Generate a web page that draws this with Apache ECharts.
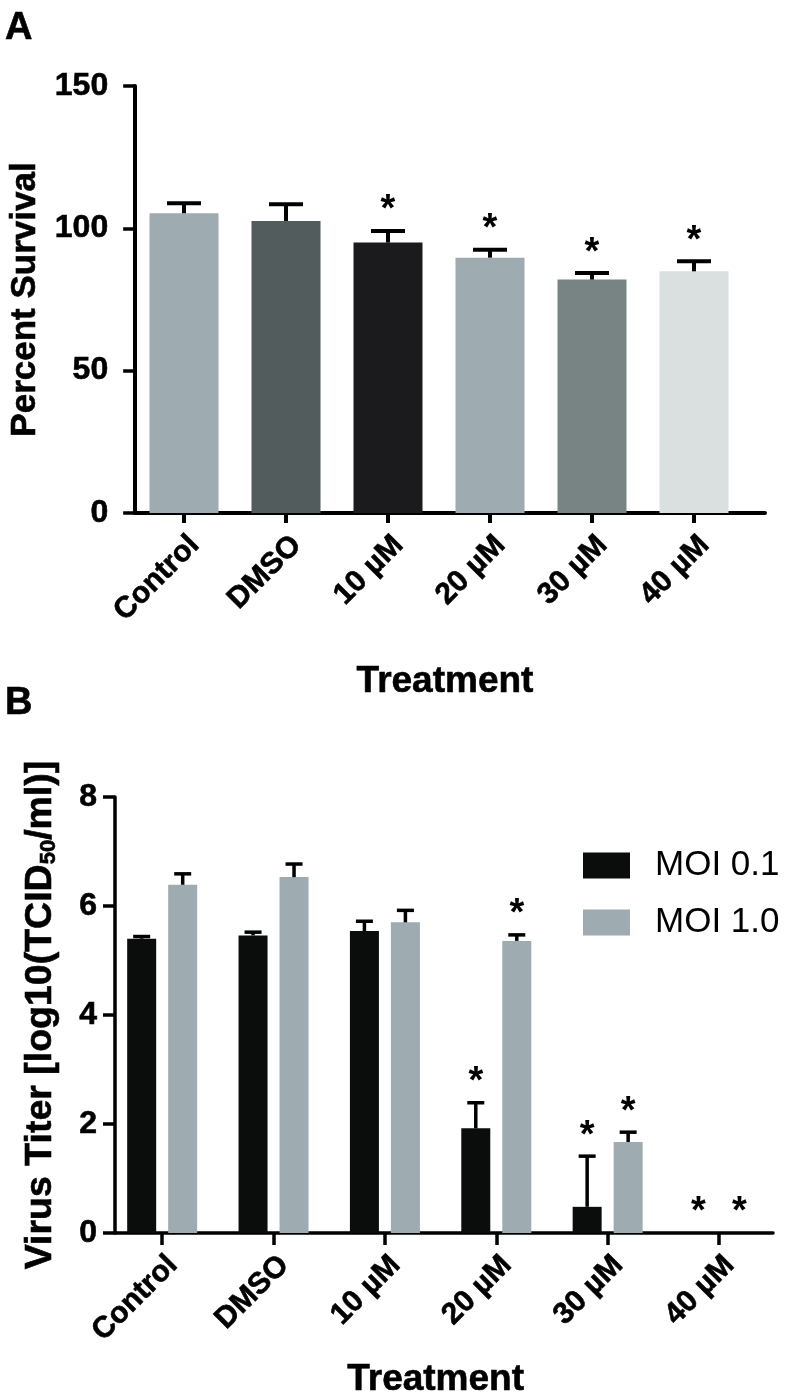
<!DOCTYPE html>
<html>
<head>
<meta charset="utf-8">
<script src="https://cdn.jsdelivr.net/npm/echarts@6/dist/echarts.min.js"></script>
<style>
html,body{margin:0;padding:0;background:#fff;}
#chart{width:788px;height:1400px;}
</style>
</head>
<body>
<div id="chart"></div>
<script>
// ---------- DATA ----------
const categories = ['Control', 'DMSO', '10 µM', '20 µM', '30 µM', '40 µM'];

// Panel A: percent survival
const survivalMean = [105.3, 102.6, 95.0, 89.7, 82.0, 84.9];
const survivalSD   = [3.5, 5.9, 4.1, 2.8, 2.3, 3.5];
const survivalSig  = [0, 0, 1, 1, 1, 1];
const survivalColors = ['#9eabb1', '#525c5d', '#1b1b1d', '#9eabb1', '#778483', '#dadfdf'];

// Panel B: virus titer
const seriesNames = ['MOI 0.1', 'MOI 1.0'];
const moi01Mean = [5.40, 5.46, 5.54, 1.92, 0.48, 0];
const moi01SD   = [0.04, 0.06, 0.18, 0.47, 0.93, 0];
const moi01Sig  = [0, 0, 0, 1, 1, 1];
const moi10Mean = [6.39, 6.53, 5.70, 5.36, 1.67, 0];
const moi10SD   = [0.20, 0.24, 0.22, 0.11, 0.18, 0];
const moi10Sig  = [0, 0, 0, 1, 1, 1];

// ---------- STYLE ----------
const FONT = '"Liberation Sans", Arial, Helvetica, sans-serif';
const BLACK = '#0b0c0c';
const GREY = '#9eabb1';
const barWidthB = 29;
const barGapB = 12;
const HEAVY = {textBorderColor: '#000', textBorderWidth: 0.6};

function errData(mean, sd, sig) {
  return mean.map((m, i) => [i, m, sd[i], sig[i]]);
}

function errRender(offsetPx, capW, lw, starOff) {
  return function (params, api) {
    const i = api.value(0);
    const m = api.value(1), sd = api.value(2), sig = api.value(3);
    const base = api.coord([i, m]);
    const top = api.coord([i, m + sd]);
    const x = base[0] + offsetPx;
    const children = [];
    if (sd > 0) {
      children.push({type: 'line', shape: {x1: x, y1: base[1], x2: x, y2: top[1]},
        style: {stroke: '#000', lineWidth: lw}});
      children.push({type: 'line', shape: {x1: x - capW / 2, y1: top[1], x2: x + capW / 2, y2: top[1]},
        style: {stroke: '#000', lineWidth: lw}});
    }
    if (sig) {
      children.push({type: 'text', style: {text: '*', x: x, y: top[1] - starOff,
        align: 'center', verticalAlign: 'middle', fontSize: 38, fontWeight: 'bold',
        fontFamily: FONT, fill: '#000'}});
    }
    return {type: 'group', children: children};
  };
}

const chart = echarts.init(document.getElementById('chart'), null, {renderer: 'canvas'});

const labelStyle = Object.assign({color: '#000', fontWeight: 'bold', fontFamily: FONT}, HEAVY);
const nameStyle = (size) => Object.assign({fontSize: size, fontWeight: 'bold', color: '#000', fontFamily: FONT}, HEAVY);

const option = {
  backgroundColor: '#fff',
  animation: false,
  textStyle: {fontFamily: FONT, color: '#000'},
  title: [
    {text: 'A', left: 0, top: 5, textStyle: nameStyle(38)},
    {text: 'B', left: 0, top: 680, textStyle: nameStyle(38)}
  ],
  legend: {
    data: seriesNames,
    left: 578, top: 843,
    orient: 'vertical',
    icon: 'rect',
    itemWidth: 47, itemHeight: 26, itemGap: 22,
    textStyle: {fontSize: 35, color: '#000', fontFamily: FONT, padding: [0, 0, 0, 20]},
    selectedMode: false
  },
  grid: [
    {left: 133, right: 43, top: 86, bottom: 887},
    {left: 117, right: 23, top: 86, bottom: 887},
    {left: 106.5, right: 13.3, top: 797, bottom: 167},
    {left: 115, right: 15, top: 797, bottom: 167}
  ],
  xAxis: [
    {type: 'category', gridIndex: 0, data: categories,
      axisLine: {show: false},
      axisTick: {show: true, alignWithLabel: true, length: 10, lineStyle: {color: '#000', width: 4}},
      axisLabel: Object.assign({rotate: 45, fontSize: 30, margin: 17, interval: 0, verticalAlign: 'top'}, labelStyle),
      name: 'Treatment', nameLocation: 'middle', nameGap: 150,
      nameTextStyle: Object.assign(nameStyle(37), {verticalAlign: 'top', padding: [0, 0, 0, 12]})},
    {type: 'value', gridIndex: 1, min: 0, max: 1,
      axisLine: {show: true, onZero: false, lineStyle: {color: '#000', width: 4}},
      axisTick: {show: false}, axisLabel: {show: false}, splitLine: {show: false}},
    {type: 'category', gridIndex: 2, data: categories,
      axisLine: {show: false},
      axisTick: {show: true, alignWithLabel: true, length: 12, lineStyle: {color: '#000', width: 3.5}},
      axisLabel: Object.assign({rotate: 45, fontSize: 30, margin: 17, interval: 0, verticalAlign: 'top'}, labelStyle),
      name: 'Treatment', nameLocation: 'middle', nameGap: 128,
      nameTextStyle: Object.assign(nameStyle(37), {verticalAlign: 'top', padding: [0, 10, 0, 0]})},
    {type: 'value', gridIndex: 3, min: 0, max: 1,
      axisLine: {show: true, onZero: false, lineStyle: {color: '#000', width: 3.5}},
      axisTick: {show: false}, axisLabel: {show: false}, splitLine: {show: false}}
  ],
  yAxis: [
    {type: 'value', gridIndex: 0, min: 0, max: 150, interval: 50, show: false},
    {type: 'value', gridIndex: 1, min: 0, max: 150, interval: 50,
      axisLine: {show: true, lineStyle: {color: '#000', width: 4}},
      axisTick: {show: true, length: 12, lineStyle: {color: '#000', width: 3.5}},
      axisLabel: Object.assign({fontSize: 32, margin: 27}, labelStyle),
      splitLine: {show: false},
      name: 'Percent Survival', nameLocation: 'middle', nameGap: 83,
      nameTextStyle: nameStyle(35)},
    {type: 'value', gridIndex: 2, min: 0, max: 8, interval: 2, show: false},
    {type: 'value', gridIndex: 3, min: 0, max: 8, interval: 2,
      axisLine: {show: true, lineStyle: {color: '#000', width: 3.5}},
      axisTick: {show: true, length: 12, lineStyle: {color: '#000', width: 3.5}},
      axisLabel: Object.assign({fontSize: 32, margin: 18}, labelStyle),
      splitLine: {show: false},
      name: '{b|Virus Titer [log10(TCID}{s|50}{b|/ml)]}', nameLocation: 'middle', nameGap: 55,
      nameTextStyle: Object.assign(nameStyle(37.5), {
        rich: {
          b: Object.assign({fontSize: 37.5, fontWeight: 'bold', color: '#000', fontFamily: FONT}, HEAVY),
          s: Object.assign({fontSize: 22, fontWeight: 'bold', color: '#000', fontFamily: FONT, verticalAlign: 'bottom', padding: [16, 0, 0, 0]}, HEAVY)
        }})}
  ],
  series: [
    {type: 'bar', name: 'Percent Survival', xAxisIndex: 0, yAxisIndex: 0, barWidth: 69,
      data: survivalMean.map((v, i) => ({value: v, itemStyle: {color: survivalColors[i]}}))},
    {type: 'custom', name: 'errA', xAxisIndex: 0, yAxisIndex: 0, z: 5,
      renderItem: errRender(0, 34, 4, 20), data: errData(survivalMean, survivalSD, survivalSig)},
    {type: 'bar', name: seriesNames[0], xAxisIndex: 2, yAxisIndex: 2, barWidth: barWidthB,
      barGap: (barGapB / barWidthB * 100) + '%', itemStyle: {color: BLACK}, data: moi01Mean},
    {type: 'bar', name: seriesNames[1], xAxisIndex: 2, yAxisIndex: 2, barWidth: barWidthB,
      barGap: (barGapB / barWidthB * 100) + '%', itemStyle: {color: GREY}, data: moi10Mean},
    {type: 'custom', name: 'errB1', xAxisIndex: 2, yAxisIndex: 2, z: 5,
      renderItem: errRender(-(barWidthB + barGapB) / 2, 17, 3.5, 20), data: errData(moi01Mean, moi01SD, moi01Sig)},
    {type: 'custom', name: 'errB2', xAxisIndex: 2, yAxisIndex: 2, z: 5,
      renderItem: errRender((barWidthB + barGapB) / 2, 17, 3.5, 20), data: errData(moi10Mean, moi10SD, moi10Sig)}
  ]
};
chart.setOption(option);
</script>
</body>
</html>
